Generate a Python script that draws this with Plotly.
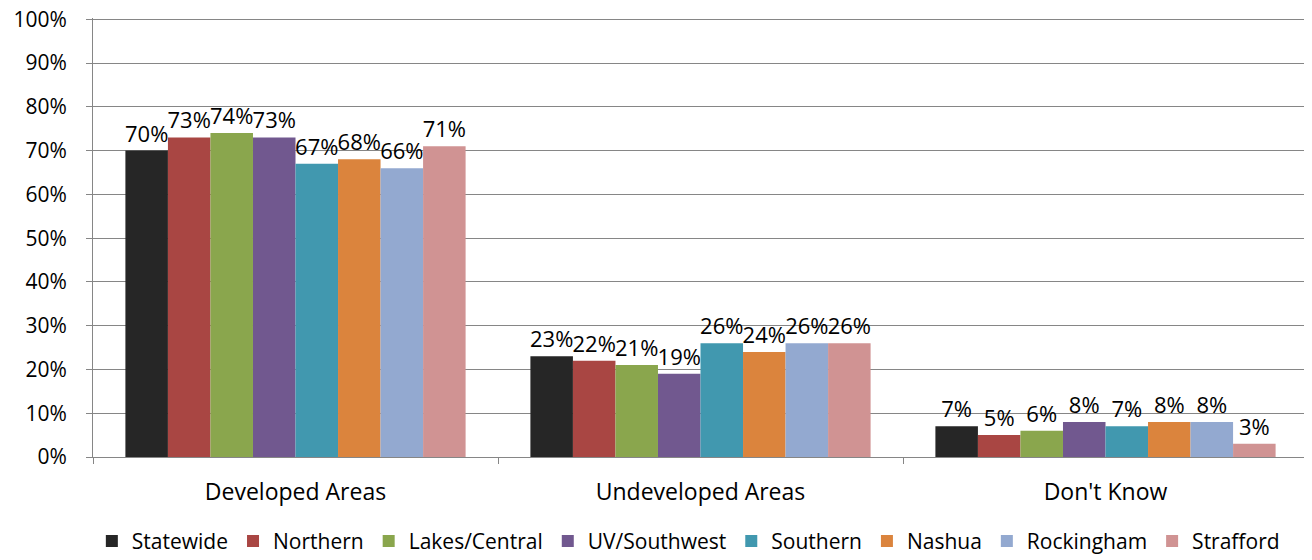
import plotly.graph_objects as go

categories = ["Developed Areas", "Undeveloped Areas", "Don't Know"]
regions = ["Statewide", "Northern", "Lakes/Central", "UV/Southwest",
           "Southern", "Nashua", "Rockingham", "Strafford"]
values = {
    "Statewide": [70, 23, 7],
    "Northern": [73, 22, 5],
    "Lakes/Central": [74, 21, 6],
    "UV/Southwest": [73, 19, 8],
    "Southern": [67, 26, 7],
    "Nashua": [68, 24, 8],
    "Rockingham": [66, 26, 8],
    "Strafford": [71, 26, 3],
}
colors = ["#262626", "#A94643", "#8AA64D", "#71588F",
          "#4198AF", "#DB843D", "#93A9D0", "#D09393"]
y_ticks = list(range(0, 101, 10))

fig = go.Figure()
for name, color in zip(regions, colors):
    vals = values[name]
    fig.add_trace(go.Bar(
        name=name,
        x=categories,
        y=vals,
        marker=dict(color=color, line=dict(width=0)),
        text=[f"{v}%" for v in vals],
        textposition="outside",
        constraintext="none",
        cliponaxis=False,
        textfont=dict(size=22, color="#000000"),
    ))

# the page body adds an 8px margin, so the figure is sized/offset for it
fig.update_layout(
    barmode="group",
    bargap=0.16,
    bargroupgap=0,
    width=1304,
    height=552,
    margin=dict(l=85, r=4, t=10, b=103, autoexpand=False),
    plot_bgcolor="white",
    paper_bgcolor="white",
    font=dict(family="Open Sans, sans-serif", size=21, color="#000000"),
    showlegend=True,
    legend=dict(
        orientation="h",
        x=0.49, xanchor="center",
        y=-0.192, yanchor="middle",
        font=dict(size=21),
        itemwidth=30,
        tracegroupgap=0,
    ),
    xaxis=dict(
        showline=True,
        linecolor="#868686",
        ticks="outside",
        tickson="boundaries",
        tickcolor="#868686",
        ticklen=6,
        showgrid=False,
        tickfont=dict(size=23),
        ticklabelstandoff=14,
    ),
    yaxis=dict(
        range=[0, 100.3],
        tickvals=y_ticks,
        ticktext=[f"{t}%" for t in y_ticks],
        showline=True,
        linecolor="#868686",
        ticks="outside",
        tickcolor="#868686",
        ticklen=6,
        showgrid=True,
        gridcolor="#868686",
        gridwidth=1,
        zeroline=False,
        tickfont=dict(size=21),
        ticklabelstandoff=15,
        ticklabeloverflow="allow",
    ),
)

fig.write_html("out.html")
